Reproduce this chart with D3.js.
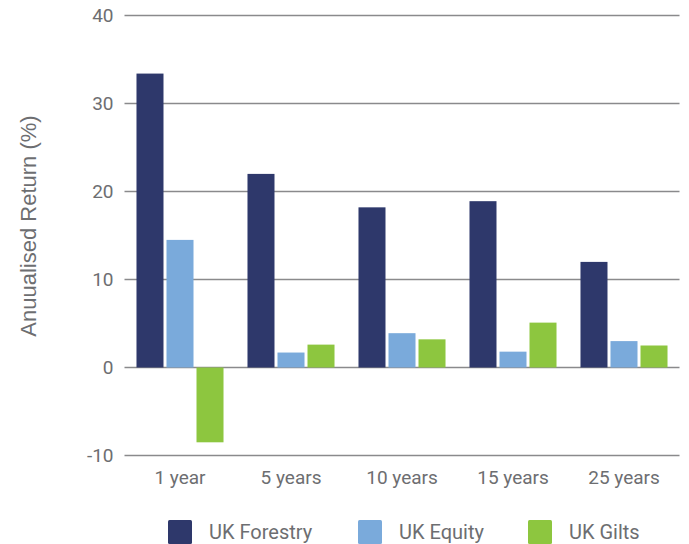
<!DOCTYPE html>
<html>
<head>
<meta charset="utf-8">
<script src="https://cdn.jsdelivr.net/npm/d3@7"></script>
<style>
  html, body { margin: 0; padding: 0; background: #fff; }
  svg { display: block; }
</style>
</head>
<body>
<svg id="chart" width="689" height="544"></svg>
<script>
// Annualised returns by holding period
const periods = ["1 year", "5 years", "10 years", "15 years", "25 years"];
const seriesNames = ["UK Forestry", "UK Equity", "UK Gilts"];
const forestry = [33.4, 22.0, 18.2, 18.9, 12.0];
const equity = [14.5, 1.7, 3.9, 1.8, 3.0];
const gilts = [-8.5, 2.6, 3.2, 5.1, 2.5];
const yTicks = [-10, 0, 10, 20, 30, 40];
const colors = ["#2e386b", "#7aaadb", "#8dc63f"];

(function () {
  const seriesValues = [forestry, equity, gilts];
  const rows = periods.map((p, i) => ({
    period: p,
    values: seriesNames.map((s, j) => ({ series: s, value: seriesValues[j][i] }))
  }));

  const svg = d3.select("#chart");
  const plotLeft = 124.5, plotRight = 679.5, plotTop = 15.5, plotBottom = 455.5;
  const textColor = "#6d6e71";
  const tickFont = "Roboto, 'DejaVu Sans', sans-serif";

  const y = d3.scaleLinear().domain([-10, 40]).range([plotBottom, plotTop]);
  const x0 = d3.scaleBand().domain(periods).range([plotLeft, plotRight])
    .paddingInner(0.216).paddingOuter(0.108);
  const x1 = d3.scaleBand().domain(seriesNames).range([0, x0.bandwidth()])
    .paddingInner(0.1);
  const color = d3.scaleOrdinal().domain(seriesNames).range(colors);

  // Horizontal gridlines
  svg.append("g")
    .selectAll("line")
    .data(yTicks)
    .join("line")
    .attr("x1", plotLeft)
    .attr("x2", plotRight)
    .attr("y1", d => y(d))
    .attr("y2", d => y(d))
    .attr("stroke", "#8a8a8c")
    .attr("stroke-width", 1.5);

  // Y axis labels (plain hyphen for negatives)
  const yAxis = svg.append("g")
    .attr("transform", `translate(${plotLeft - 11},0)`)
    .call(d3.axisLeft(y).tickValues(yTicks).tickFormat(d => String(d))
      .tickSize(0).tickPadding(0));
  yAxis.select(".domain").remove();
  yAxis.selectAll("text")
    .attr("fill", textColor)
    .style("font-family", tickFont)
    .style("font-size", "19px")
    .style("font-weight", "400");

  // Bars
  svg.append("g")
    .selectAll("g")
    .data(rows)
    .join("g")
    .attr("transform", d => `translate(${x0(d.period)},0)`)
    .selectAll("rect")
    .data(d => d.values)
    .join("rect")
    .attr("x", d => x1(d.series))
    .attr("width", x1.bandwidth())
    .attr("y", d => y(Math.max(0, d.value)))
    .attr("height", d => Math.abs(y(d.value) - y(0)))
    .attr("fill", d => color(d.series));

  // Category labels
  const xAxis = svg.append("g")
    .attr("transform", `translate(0,${plotBottom + 15})`)
    .call(d3.axisBottom(x0).tickSize(0).tickPadding(0));
  xAxis.select(".domain").remove();
  xAxis.selectAll("text")
    .attr("fill", textColor)
    .style("font-family", tickFont)
    .style("font-size", "19px")
    .style("font-weight", "400");

  // Y axis title
  svg.append("text")
    .attr("transform", "translate(36,226) rotate(-90)")
    .attr("text-anchor", "middle")
    .attr("fill", textColor)
    .style("font-family", "'Liberation Sans', Arial, sans-serif")
    .style("font-size", "22px")
    .text("Anuualised Return (%)");

  // Legend
  const legendX = [168, 358, 528];
  const legend = svg.append("g")
    .selectAll("g")
    .data(seriesNames)
    .join("g")
    .attr("transform", (d, i) => `translate(${legendX[i]},520)`);
  legend.append("rect")
    .attr("width", 24)
    .attr("height", 24)
    .attr("rx", 1.5)
    .attr("fill", d => color(d));
  legend.append("text")
    .attr("x", 41)
    .attr("y", 19)
    .attr("fill", textColor)
    .style("font-family", tickFont)
    .style("font-size", "20px")
    .style("font-weight", "400")
    .text(d => d);
})();
</script>
</body>
</html>
